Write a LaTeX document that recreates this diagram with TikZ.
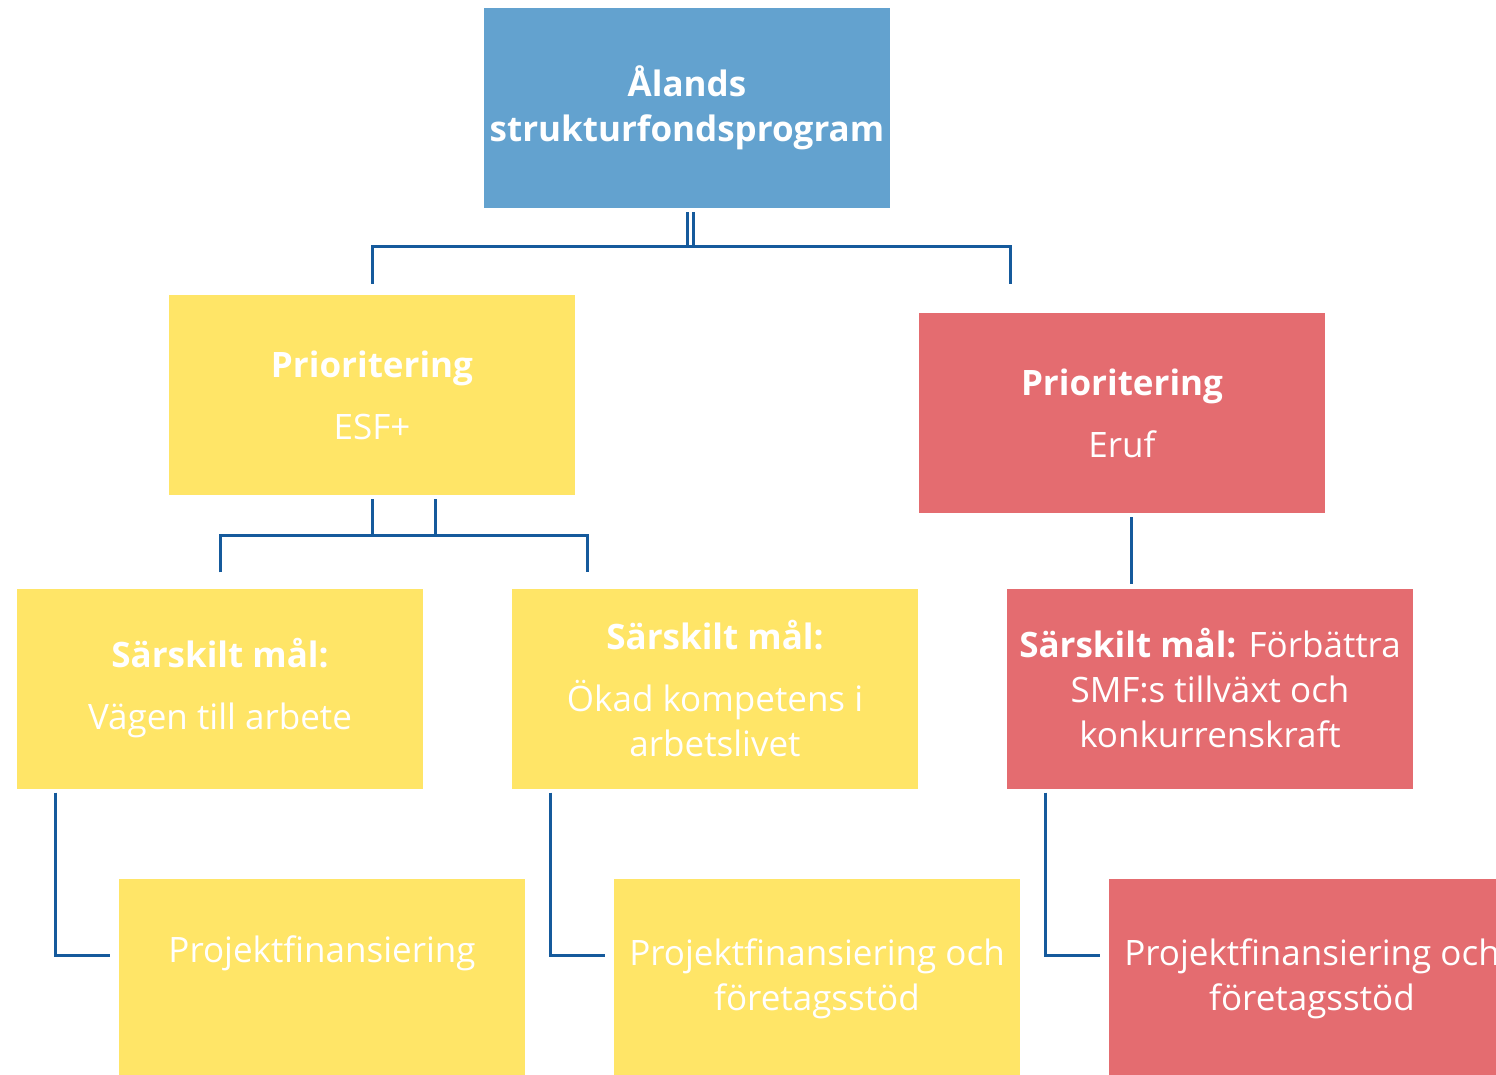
\documentclass[tikz,border=0pt]{standalone}
\usepackage{fontspec}
\setmainfont{Open Sans}
\usetikzlibrary{calc}
\definecolor{topblue}{HTML}{63A2CF}
\definecolor{yelbox}{HTML}{FFE567}
\definecolor{redbox}{HTML}{E46C70}
\definecolor{lineblue}{HTML}{155A9C}
\begin{document}
\begin{tikzpicture}[x=1pt,y=-1pt,
  box/.style={minimum width=406pt, minimum height=200pt, inner sep=0pt, text=white, align=center, font=\fontsize{35}{45}\selectfont},
  bluebox/.style={box, fill=topblue},
  yellowbox/.style={box, fill=yelbox},
  redcolbox/.style={box, fill=redbox},
  conn/.style={draw=lineblue, line width=3pt}]
\path[use as bounding box, clip] (0,0) rectangle (1496,1075);
\fill[white] (0,0) rectangle (1496,1075);
% boxes
\node[bluebox] (top) at (687,108) {\bfseries Ålands\\\bfseries strukturfondsprogram};
\node[yellowbox] (esf) at (372,395) {\bfseries Prioritering\\[17pt]ESF+};
\node[redcolbox] (eruf) at (1122,413) {\bfseries Prioritering\\[17pt]Eruf};
\node[yellowbox] (m1) at (220,688.5) {\bfseries Särskilt mål:\\[17pt]Vägen till arbete};
\node[yellowbox] (m2) at (715,688.5) {\bfseries Särskilt mål:\\[17pt]Ökad kompetens i\\arbetslivet};
\node[redcolbox] (m3) at (1210,688.5) {{\bfseries Särskilt mål:} Förbättra\\SMF:s tillväxt och\\konkurrenskraft};
\node[yellowbox] (b1) at (322,979) {Projektfinansiering\\[14pt]\mbox{}};
\node[yellowbox] (b2) at (817,979) {Projektfinansiering och\\företagsstöd};
\node[redcolbox] (b3) at (1312,979) {Projektfinansiering och\\företagsstöd};
% connectors
\draw[conn] ($(top.south)+(0,4)$) -- ($(top.south)+(0,39)$);
\draw[conn] ($(top.south)+(6,4)$) -- ($(top.south)+(6,39)$);
\draw[conn] ($(esf.north)+(0,-11)$) |- ($(eruf.north)+(-112,-66)$) -- ($(eruf.north)+(-112,-29)$);
\draw[conn] ($(esf.south)+(0,4)$) -- ($(esf.south)+(0,40)$) -| ($(esf.south)+(63,4)$);
\draw[conn] ($(m1.north)+(0,-16)$) |- ($(m2.north)+(-128,-53)$) -- ($(m2.north)+(-128,-16)$);
\draw[conn] ($(eruf.south)+(9,4)$) -- ($(m3.north)+(-79,-4)$);
\draw[conn] ($(m1.south west)+(39,4)$) |- ($(b1.west)+(-9,-24)$);
\draw[conn] ($(m2.south west)+(39,4)$) |- ($(b2.west)+(-9,-24)$);
\draw[conn] ($(m3.south west)+(39,4)$) |- ($(b3.west)+(-9,-24)$);
\end{tikzpicture}
\end{document}
